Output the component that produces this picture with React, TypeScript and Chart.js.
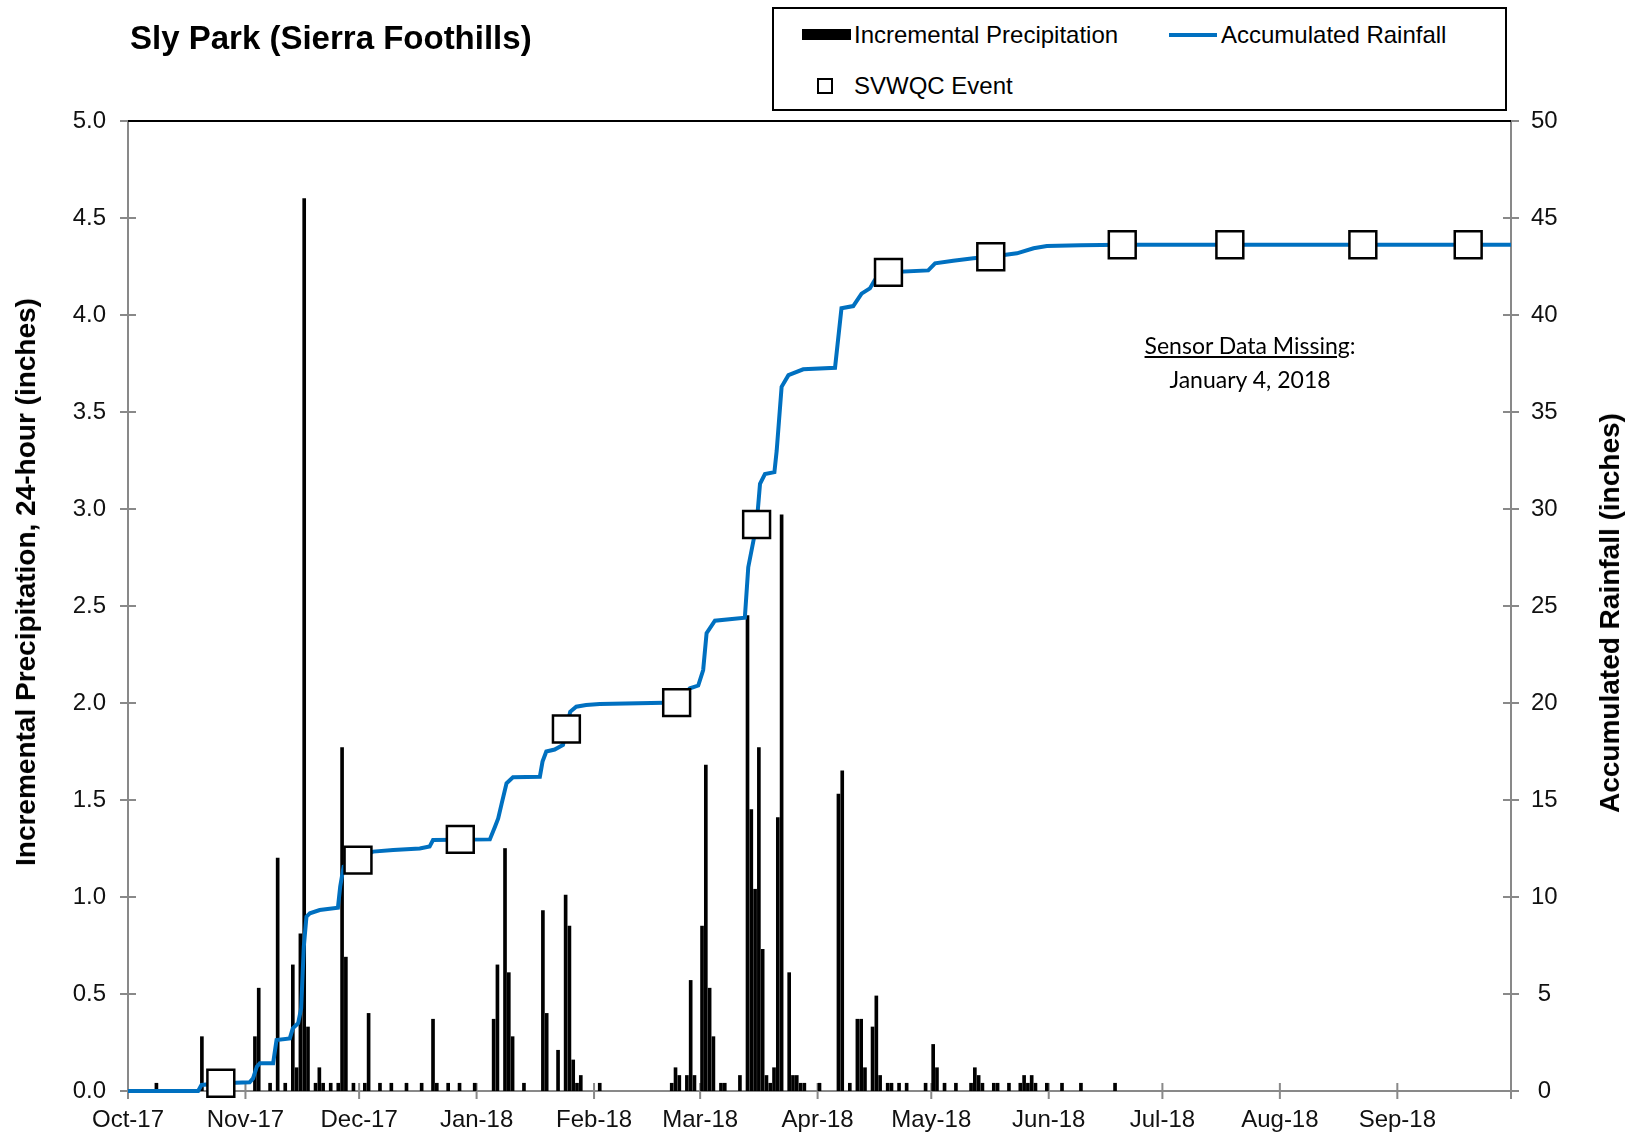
import React, { useEffect, useRef } from 'react';
import { Chart, registerables } from 'chart.js';

Chart.register(...registerables);

// ---- Data (day index: 0 = Oct 1, 2017) ----
const MONTH_LABELS = ['Oct-17', 'Nov-17', 'Dec-17', 'Jan-18', 'Feb-18', 'Mar-18', 'Apr-18', 'May-18', 'Jun-18', 'Jul-18', 'Aug-18', 'Sep-18'];
const MONTH_START_DAYS = [0, 31, 61, 92, 123, 151, 182, 212, 243, 273, 304, 335, 365];

const PRECIP_DAYS = [
  7, 19, 33, 34, 37, 39, 41, 43, 44, 45, 46, 47, 49, 50, 51, 53, 55, 56, 57, 59,
  62, 63, 66, 69, 73, 77, 80, 81, 84, 87, 91, 96, 97, 99, 100, 101, 104, 109, 110, 113,
  115, 116, 117, 118, 119, 124, 143, 144, 145, 147, 148, 149, 151, 152, 153, 154, 156, 157, 161, 163,
  164, 165, 166, 167, 168, 169, 170, 171, 172, 174, 175, 176, 177, 178, 182, 187, 188, 190, 192, 193,
  194, 196, 197, 198, 200, 201, 203, 205, 210, 212, 213, 215, 218, 222, 223, 224, 225, 228, 229, 232,
  235, 236, 237, 238, 239, 242, 246, 251, 260,
];
const PRECIP_VALUES = [
  0.04, 0.28, 0.28, 0.53, 0.04, 1.2, 0.04, 0.65, 0.12, 0.81, 4.6, 0.33, 0.04, 0.12, 0.04, 0.04, 0.04, 1.77, 0.69, 0.04,
  0.04, 0.4, 0.04, 0.04, 0.04, 0.04, 0.37, 0.04, 0.04, 0.04, 0.04, 0.37, 0.65, 1.25, 0.61, 0.28, 0.04, 0.93, 0.4, 0.21,
  1.01, 0.85, 0.16, 0.04, 0.08, 0.04, 0.04, 0.12, 0.08, 0.08, 0.57, 0.08, 0.85, 1.68, 0.53, 0.28, 0.04, 0.04, 0.08, 2.45,
  1.45, 1.04, 1.77, 0.73, 0.08, 0.04, 0.12, 1.41, 2.97, 0.61, 0.08, 0.08, 0.04, 0.04, 0.04, 1.53, 1.65, 0.04, 0.37, 0.37,
  0.12, 0.33, 0.49, 0.08, 0.04, 0.04, 0.04, 0.04, 0.04, 0.24, 0.12, 0.04, 0.04, 0.04, 0.12, 0.08, 0.04, 0.04, 0.04, 0.04,
  0.04, 0.08, 0.04, 0.08, 0.04, 0.04, 0.04, 0.04, 0.04,
];

const ACC_DAYS = [
  0, 18.5, 19.4, 24.5, 32.1, 33, 34, 34.8, 38.3, 39.2, 42.7, 43.5, 44.9, 45.7, 46.4, 47.1, 48, 50.6, 55.4, 56,
  56.9, 60.7, 64.7, 70, 77, 79.6, 80.5, 95.5, 96.8, 97.7, 98.6, 99.9, 101.6, 108.7, 109.4, 110.4, 112.6, 114.8, 115.7, 116.7,
  118.3, 120.9, 124.5, 144.8, 148.3, 150.5, 151.8, 152.7, 154.9, 162.8, 163.7, 165.9, 166.8, 168.1, 170.6, 171.2, 172.5, 174.3, 178.2, 186.6,
  188.3, 191.4, 193.6, 195.8, 197.1, 200.7, 211.2, 213, 217.8, 223.1, 227.7, 234.6, 239, 242.5, 251.3, 262.4, 365,
];
const ACC_VALUES = [
  0, 0, 0.31, 0.4, 0.45, 0.65, 1.25, 1.43, 1.43, 2.63, 2.71, 3.23, 3.49, 4.26, 7.44, 8.99, 9.16, 9.33, 9.45, 10.53,
  11.56, 11.9, 12.34, 12.42, 12.5, 12.6, 12.94, 12.97, 13.6, 14.05, 14.8, 15.86, 16.17, 16.2, 16.98, 17.5, 17.6, 17.84, 18.66, 19.55,
  19.81, 19.9, 19.95, 20.02, 20.76, 20.9, 21.7, 23.6, 24.24, 24.4, 27.0, 29.2, 31.3, 31.8, 31.9, 33.0, 36.3, 36.9, 37.2, 37.28,
  40.35, 40.46, 41.1, 41.37, 41.8, 42.2, 42.3, 42.66, 42.8, 42.92, 43.0, 43.18, 43.44, 43.56, 43.6, 43.62, 43.62,
];

const EVENT_DAYS = [24.5, 60.7, 87.7, 115.7, 144.8, 165.9, 200.7, 227.7, 262.4, 290.8, 325.9, 353.7];
const EVENT_VALUES = [0.4, 11.9, 12.97, 18.66, 20.02, 29.2, 42.2, 43.0, 43.62, 43.62, 43.62, 43.62];

const TITLE = 'Sly Park (Sierra Foothills)';
const LEFT_TITLE = 'Incremental Precipitation, 24-hour (inches)';
const RIGHT_TITLE = 'Accumulated Rainfall (inches)';
const LEGEND_LABELS = ['Incremental Precipitation', 'Accumulated Rainfall', 'SVWQC Event'];
const NOTE_LINE1 = 'Sensor Data Missing';
const NOTE_LINE2 = 'January 4, 2018';

const FONT = '"Liberation Sans", Arial, Helvetica, sans-serif';
const BLUE = '#0070C0';
const AXIS_GRAY = '#898989';

const axisPlugin = {
  id: 'axisFrame',
  beforeDatasetsDraw(chart: any) {
    const { ctx, chartArea, scales } = chart;
    const { left, right, top, bottom } = chartArea;
    ctx.save();
    ctx.strokeStyle = AXIS_GRAY;
    ctx.lineWidth = 2;
    ctx.beginPath();
    ctx.moveTo(left, top);
    ctx.lineTo(left, bottom);
    ctx.moveTo(right, top);
    ctx.lineTo(right, bottom);
    ctx.moveTo(left, bottom);
    ctx.lineTo(right, bottom);
    scales.y.ticks.forEach((t: any) => {
      const py = scales.y.getPixelForValue(t.value);
      ctx.moveTo(left - 8, py);
      ctx.lineTo(left + 8, py);
    });
    scales.y1.ticks.forEach((t: any) => {
      const py = scales.y1.getPixelForValue(t.value);
      ctx.moveTo(right - 8, py);
      ctx.lineTo(right + 8, py);
    });
    scales.x.ticks.forEach((t: any) => {
      const px = scales.x.getPixelForValue(t.value);
      ctx.moveTo(px, bottom - 8);
      ctx.lineTo(px, bottom + 8);
    });
    ctx.stroke();
    ctx.strokeStyle = '#000';
    ctx.lineWidth = 2;
    ctx.beginPath();
    ctx.moveTo(left, top);
    ctx.lineTo(right, top);
    ctx.stroke();
    ctx.restore();
  },
};

function TextAt(props: { x: number; cy: number; size: number; bold?: boolean; children: any; family?: string; k?: number; center?: boolean }) {
  const k = props.k ?? 0.49;
  return (
    <div
      style={{
        position: 'absolute',
        left: props.x,
        top: props.cy - k * props.size,
        fontSize: props.size,
        lineHeight: 1,
        fontWeight: props.bold ? 'bold' : 'normal',
        fontFamily: props.family ?? FONT,
        whiteSpace: 'nowrap',
        color: '#000',
        transform: props.center ? 'translateX(-50%)' : undefined,
      }}
    >
      {props.children}
    </div>
  );
}

function RotText(props: { cx: number; cy: number; size: number; children: any }) {
  return (
    <div
      style={{
        position: 'absolute',
        left: props.cx,
        top: props.cy,
        fontSize: props.size,
        lineHeight: 1,
        fontWeight: 'bold',
        fontFamily: FONT,
        whiteSpace: 'nowrap',
        color: '#000',
        transform: 'translate(-50%, -50%) rotate(-90deg)',
      }}
    >
      {props.children}
    </div>
  );
}

export default function App() {
  const canvasRef = useRef<HTMLCanvasElement | null>(null);

  useEffect(() => {
    const canvas = canvasRef.current;
    if (!canvas) return;
    const chart = new Chart(canvas, {
      type: 'bar',
      data: {
        datasets: [
          {
            type: 'line',
            label: LEGEND_LABELS[2],
            data: EVENT_DAYS.map((d, i) => ({ x: d, y: EVENT_VALUES[i] })),
            yAxisID: 'y1',
            showLine: false,
            pointStyle: 'rect',
            pointRadius: 19,
            pointHoverRadius: 19,
            pointBackgroundColor: '#fff',
            pointBorderColor: '#000',
            pointBorderWidth: 2.5,
            order: 0,
            clip: false,
          } as any,
          {
            type: 'line',
            label: LEGEND_LABELS[1],
            data: ACC_DAYS.map((d, i) => ({ x: d, y: ACC_VALUES[i] })),
            yAxisID: 'y1',
            borderColor: BLUE,
            borderWidth: 4,
            pointRadius: 0,
            tension: 0,
            order: 1,
            clip: false,
          } as any,
          {
            type: 'bar',
            label: LEGEND_LABELS[0],
            data: PRECIP_DAYS.map((d, i) => ({ x: d + 0.5, y: PRECIP_VALUES[i] })),
            yAxisID: 'y',
            backgroundColor: '#000',
            borderWidth: 0,
            barThickness: 3,
            order: 2,
          } as any,
        ],
      },
      options: {
        responsive: false,
        animation: false,
        events: [],
        layout: { padding: { top: 121, left: 0, right: 0, bottom: 0 } },
        plugins: {
          legend: { display: false },
          tooltip: { enabled: false },
          title: { display: false },
        },
        scales: {
          x: {
            type: 'linear',
            offset: false,
            min: 0,
            max: 365,
            grid: { display: false, drawTicks: false, offset: false },
            border: { display: false },
            afterBuildTicks: (scale: any) => {
              scale.ticks = MONTH_START_DAYS.map((v) => ({ value: v }));
            },
            afterFit: (scale: any) => {
              scale.height = 47;
            },
            ticks: {
              autoSkip: false,
              maxRotation: 0,
              minRotation: 0,
              padding: 15,
              color: '#111',
              font: { family: FONT, size: 24 },
              callback: (value: any) => {
                const idx = MONTH_START_DAYS.indexOf(Number(value));
                return idx >= 0 && idx < MONTH_LABELS.length ? MONTH_LABELS[idx] : '';
              },
            },
          },
          y: {
            type: 'linear',
            position: 'left',
            min: 0,
            max: 5,
            grid: { display: false, drawTicks: false },
            border: { display: false },
            afterFit: (scale: any) => {
              scale.width = 128;
            },
            ticks: {
              stepSize: 0.5,
              padding: 22,
              color: '#111',
              font: { family: FONT, size: 24 },
              callback: (v: any) => Number(v).toFixed(1),
            },
          },
          y1: {
            type: 'linear',
            position: 'right',
            min: 0,
            max: 50,
            grid: { display: false, drawTicks: false },
            border: { display: false },
            afterFit: (scale: any) => {
              scale.width = 126;
            },
            ticks: {
              stepSize: 5,
              padding: 20,
              crossAlign: 'center',
              color: '#111',
              font: { family: FONT, size: 24 },
            },
          },
        },
      } as any,
      plugins: [axisPlugin],
    });
    return () => {
      chart.destroy();
    };
  }, []);

  return (
    <div style={{ position: 'absolute', left: 0, top: 0, width: 1637, height: 1138, background: '#fff', overflow: 'hidden' }}>
      <canvas ref={canvasRef} width={1637} height={1138} style={{ position: 'absolute', left: 0, top: 0, display: 'block' }} />
      <TextAt x={130} cy={37} size={33} bold>
        {TITLE}
      </TextAt>
      <RotText cx={26} cy={582} size={28}>
        {LEFT_TITLE}
      </RotText>
      <RotText cx={1610} cy={613} size={28}>
        {RIGHT_TITLE}
      </RotText>
      {/* Legend box */}
      <div
        style={{
          position: 'absolute',
          left: 772,
          top: 7,
          width: 735,
          height: 104,
          border: '2px solid #000',
          boxSizing: 'border-box',
          background: '#fff',
        }}
      />
      <div style={{ position: 'absolute', left: 802, top: 29, width: 49, height: 11, background: '#000' }} />
      <TextAt x={854} cy={34.5} size={24}>
        {LEGEND_LABELS[0]}
      </TextAt>
      <div style={{ position: 'absolute', left: 1169, top: 32.5, width: 48, height: 4, background: BLUE }} />
      <TextAt x={1221} cy={34.5} size={24}>
        {LEGEND_LABELS[1]}
      </TextAt>
      <div
        style={{
          position: 'absolute',
          left: 817,
          top: 78,
          width: 16,
          height: 16,
          border: '2px solid #000',
          boxSizing: 'border-box',
          background: '#fff',
        }}
      />
      <TextAt x={854} cy={85.6} size={24}>
        {LEGEND_LABELS[2]}
      </TextAt>
      {/* Annotation */}
      <TextAt x={1250} cy={346.6} size={23} family='Lato, "Open Sans", sans-serif' k={0.53} center>
        <span style={{ textDecoration: 'underline' }}>{NOTE_LINE1}</span>:
      </TextAt>
      <TextAt x={1250} cy={380} size={23} family='Lato, "Open Sans", sans-serif' k={0.53} center>
        {NOTE_LINE2}
      </TextAt>
    </div>
  );
}
